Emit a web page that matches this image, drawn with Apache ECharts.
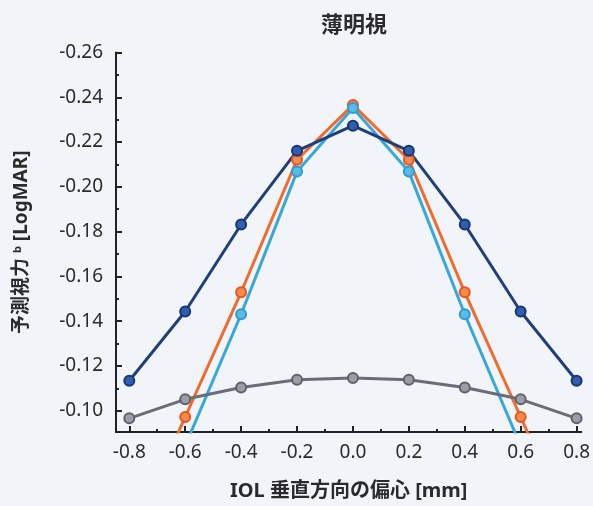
<!DOCTYPE html>
<html><head><meta charset="utf-8">
<script src="https://cdn.jsdelivr.net/npm/echarts@6/dist/echarts.min.js"></script>
<style>html,body{margin:0;padding:0;background:#f1f4f8;}#c{width:593px;height:506px;}</style>
</head><body><div id="c"></div>
<script>
const title = '薄明視';
const xAxisName = 'IOL 垂直方向の偏心 [mm]';
const xValues = [-0.8, -0.6, -0.4, -0.2, 0.0, 0.2, 0.4, 0.6, 0.8];
const xTicks = [-0.8, -0.6, -0.4, -0.2, 0.0, 0.2, 0.4, 0.6, 0.8];
const xMinorTicks = [-0.7, -0.5, -0.3, -0.1, 0.1, 0.3, 0.5, 0.7];
const yTicks = [-0.26, -0.24, -0.22, -0.20, -0.18, -0.16, -0.14, -0.12, -0.10];
const yMinorTicks = [-0.25, -0.23, -0.21, -0.19, -0.17, -0.15, -0.13, -0.11];
const navy = [-0.1134, -0.1443, -0.1832, -0.2161, -0.2273, -0.2161, -0.1832, -0.1443, -0.1134];
const orange = [-0.0415, -0.0972, -0.1529, -0.2121, -0.2366, -0.2121, -0.1529, -0.0972, -0.0415];
const lightBlue = [-0.025, -0.0843, -0.1431, -0.2068, -0.2352, -0.2068, -0.1431, -0.0843, -0.025];
const gray = [-0.0966, -0.1051, -0.1104, -0.1138, -0.1146, -0.1138, -0.1104, -0.1051, -0.0966];

const pairs = arr => xValues.map((x, i) => [x, arr[i]]);
const font = '"Noto Sans", "Noto Sans CJK JP", sans-serif';
const txt = '#2b2b2b';
function mk(name, data, line, fill, border) {
  return {
    name, type: 'line', data: pairs(data), xAxisIndex: 0, yAxisIndex: 0,
    symbol: 'circle', symbolSize: 10, clip: true,
    lineStyle: { color: line, width: 3 },
    itemStyle: { color: fill, borderColor: border, borderWidth: 2 },
    emphasis: { disabled: true }, animation: false
  };
}
const chart = echarts.init(document.getElementById('c'));
const common = { min: -0.8475, max: 0.817 };
chart.setOption({
  backgroundColor: '#f1f4f8',
  animation: false,
  title: { text: title, left: 349, top: 10, textAlign: 'center',
    textStyle: { fontFamily: font, fontSize: 22, fontWeight: 'bold', color: txt } },
  grid: { left: 116, top: 52.5, right: 11, bottom: 73, containLabel: false },
  xAxis: [
    { type: 'value', ...common, name: xAxisName, nameLocation: 'middle', nameGap: 49,
      nameTextStyle: { fontFamily: font, fontSize: 20, fontWeight: 'bold', color: txt },
      axisLine: { onZero: false, lineStyle: { color: '#222', width: 2 } },
      axisTick: { show: true, inside: true, length: 6, lineStyle: { color: '#222', width: 2 }, customValues: xTicks },
      axisLabel: { customValues: xTicks, formatter: v => v.toFixed(1), margin: 11,
        fontFamily: font, fontSize: 19, color: txt },
      splitLine: { show: false }, minorTick: { show: false } },
    { type: 'value', ...common, position: 'bottom',
      axisLine: { show: false, onZero: false },
      axisTick: { show: true, inside: true, length: 3, lineStyle: { color: '#222', width: 2 }, customValues: xMinorTicks },
      axisLabel: { show: false }, splitLine: { show: false } }
  ],
  yAxis: [
    { type: 'value', inverse: true, min: -0.26, max: -0.0905,
      name: '予測視力 {sup|b} [LogMAR]', nameLocation: 'middle', nameGap: 84, nameRotate: 90,
      nameTextStyle: { fontFamily: font, fontSize: 19, fontWeight: 'bold', color: txt,
        rich: { sup: { fontFamily: font, fontSize: 11, fontWeight: 'bold', color: txt, verticalAlign: 'top', padding: [0, 0, 9, 0] } } },
      axisLine: { show: true, onZero: false, lineStyle: { color: '#222', width: 2 } },
      axisTick: { show: true, inside: true, length: 6, lineStyle: { color: '#222', width: 2 }, customValues: yTicks },
      axisLabel: { customValues: yTicks, formatter: v => v.toFixed(2), margin: 13,
        fontFamily: font, fontSize: 19, color: txt },
      splitLine: { show: false } },
    { type: 'value', inverse: true, min: -0.26, max: -0.0905, position: 'left',
      axisLine: { show: false, onZero: false },
      axisTick: { show: true, inside: true, length: 3, lineStyle: { color: '#222', width: 2 }, customValues: yMinorTicks },
      axisLabel: { show: false }, splitLine: { show: false } }
  ],
  series: [
    mk('orange', orange, '#f26a2c', '#f58a4e', '#e8561c'),
    mk('lightBlue', lightBlue, '#38a8dc', '#5cbbe6', '#2f9bd0'),
    mk('navy', navy, '#1e3f7c', '#2f5fae', '#1a3670'),
    mk('gray', gray, '#6a6d75', '#9b9ea8', '#5f626a')
  ]
});
</script></body></html>
